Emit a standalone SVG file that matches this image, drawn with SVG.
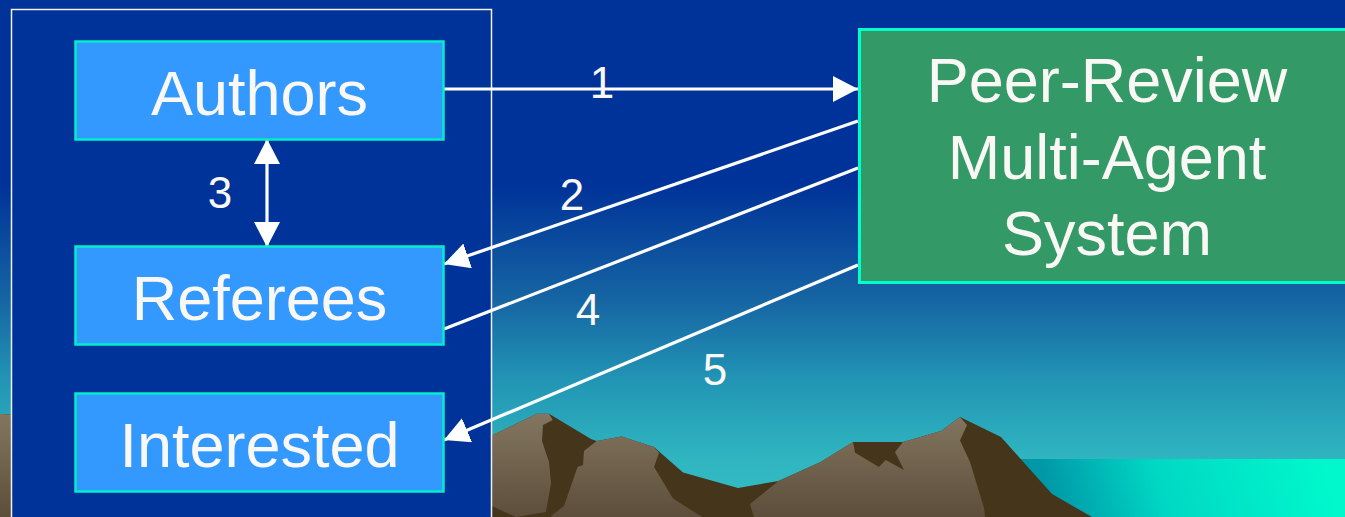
<svg xmlns="http://www.w3.org/2000/svg" width="1345" height="517" viewBox="0 0 1345 517">
  <defs>
    <linearGradient id="sky" x1="0" y1="0" x2="0" y2="517" gradientUnits="userSpaceOnUse">
      <stop offset="0" stop-color="#003399"/>
      <stop offset="0.36" stop-color="#003399"/>
      <stop offset="0.58" stop-color="#1665a3"/>
      <stop offset="0.74" stop-color="#2296b5"/>
      <stop offset="0.89" stop-color="#30b6c0"/>
      <stop offset="1" stop-color="#33bcc4"/>
    </linearGradient>
    <linearGradient id="sea" x1="1320" y1="455" x2="1060" y2="530" gradientUnits="userSpaceOnUse">
      <stop offset="0" stop-color="#00f8cc"/>
      <stop offset="0.6" stop-color="#00d8c4"/>
      <stop offset="1" stop-color="#0098a8"/>
    </linearGradient>
    <linearGradient id="rock" x1="0" y1="410" x2="0" y2="517" gradientUnits="userSpaceOnUse">
      <stop offset="0" stop-color="#857862"/>
      <stop offset="1" stop-color="#5c4e3a"/>
    </linearGradient>
    <marker id="head" markerUnits="userSpaceOnUse" markerWidth="26" markerHeight="26" refX="25" refY="13" orient="auto-start-reverse" viewBox="0 0 26 26">
      <path d="M0,0 L25,13 L0,26 z" fill="#ffffff"/>
    </marker>
    <style>
      .box { fill: #3399ff; stroke: #00eecc; stroke-width: 2.5; }
      .sys { fill: #339966; stroke: #00ffcc; stroke-width: 3; }
      .label { font-family: "Liberation Sans", Arial, sans-serif; font-size: 63px; fill: #faf8f5; text-anchor: middle; }
      .num { font-family: "Liberation Sans", Arial, sans-serif; font-size: 44px; fill: #faf8f5; text-anchor: middle; }
      .wire { stroke: #ffffff; stroke-width: 3.2; fill: none; }
      .shade { fill: #45351a; }
      .lit { fill: url(#rock); }
    </style>
  </defs>

  <!-- sky -->
  <rect x="0" y="0" width="1345" height="517" fill="url(#sky)"/>

  <!-- sea -->
  <rect x="1000" y="459" width="345" height="58" fill="url(#sea)"/>

  <!-- mountains: dark silhouette with lit rock faces on top -->
  <g id="mountains">
    <polygon class="shade" points="0,414 470,440 491.5,435.5 537,413.7 549,413.7 591,439 596.7,441 621.6,436.6 654,447 683,472.6 738,488 778.5,481 820.6,462 853,442 903,442 941,431 960,417 1001,437 1052,494 1092,517 0,517"/>
    <polygon class="lit" points="0,414 470,440 491.5,435.5 537,413.7 549,413.7 552.7,420 543,425 542,441 549,462 551,483 546,512 516,517 491.5,506 12,506 12,517 0,517"/>
    <polygon class="lit" points="553.5,514 564,506 577.6,467 583,465 584,451 596.7,441 621.6,436.6 654,447 659,452.7 654,467 673,498.6 702,517 551,517"/>
    <polygon class="lit" points="750,504 778.5,481 820.6,462 853,442 855,452.7 879,467 885.6,460 904,470 895,452 903,442 941,431 960,417 967,425 960,440.5 970,462 984,508 985,517 754,517"/>
  </g>

  <!-- container of the human participants -->
  <rect id="participants" x="11.5" y="9.5" width="480" height="520" fill="#003399" stroke="#f0f0f0" stroke-width="1.5"/>

  <!-- connectors -->
  <g id="connectors">
    <line class="wire" x1="444" y1="89" x2="858" y2="89" marker-end="url(#head)"/>
    <line class="wire" x1="858" y1="121" x2="444" y2="264" marker-end="url(#head)"/>
    <line class="wire" x1="267" y1="139" x2="267" y2="247" marker-start="url(#head)" marker-end="url(#head)"/>
    <line class="wire" x1="858" y1="168" x2="444" y2="329"/>
    <line class="wire" x1="858" y1="265" x2="444" y2="440" marker-end="url(#head)"/>
    <text class="num" x="602" y="98">1</text>
    <text class="num" x="572" y="210">2</text>
    <text class="num" x="220" y="208">3</text>
    <text class="num" x="588" y="325">4</text>
    <text class="num" x="715" y="385">5</text>
  </g>

  <g id="authors">
    <rect class="box" x="75.5" y="41.5" width="368" height="98"/>
    <text class="label" x="259.5" y="115">Authors</text>
  </g>

  <g id="referees">
    <rect class="box" x="75.5" y="246.5" width="368" height="98"/>
    <text class="label" x="259.5" y="320">Referees</text>
  </g>

  <g id="interested">
    <rect class="box" x="75.5" y="393.5" width="368" height="98"/>
    <text class="label" x="259.5" y="467">Interested</text>
  </g>

  <g id="system">
    <rect class="sys" x="859.5" y="29.5" width="500" height="253"/>
    <text class="label" x="1107" y="102">Peer-Review</text>
    <text class="label" x="1107" y="179">Multi-Agent</text>
    <text class="label" x="1107" y="255">System</text>
  </g>
</svg>
